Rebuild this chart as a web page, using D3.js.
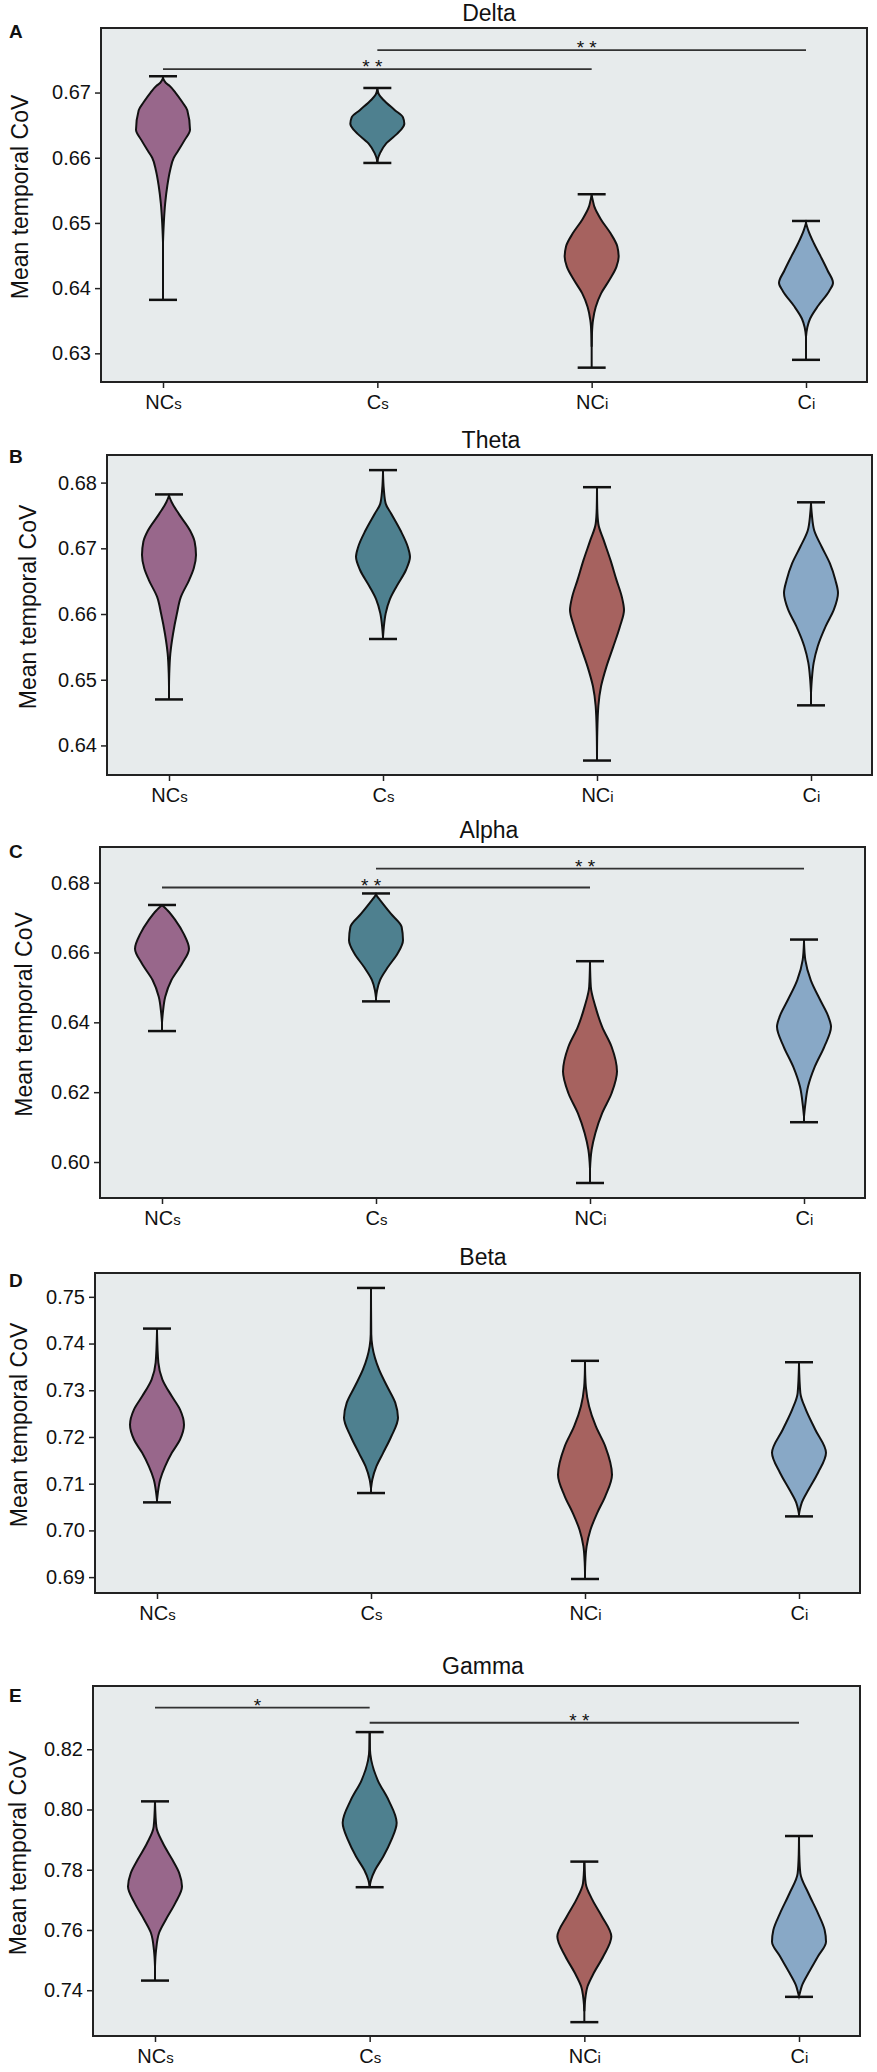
<!DOCTYPE html>
<html>
<head>
<meta charset="utf-8">
<script src="https://cdn.jsdelivr.net/npm/d3@7"></script>
<style>
  html, body { margin: 0; padding: 0; background: #fff; }
  svg text { font-family: "Liberation Sans", Arial, sans-serif; fill: #111; }
</style>
</head>
<body>
<svg id="chart" width="877" height="2072"></svg>
<script>
// groups and bands
var categories = ['NCs', 'Cs', 'NCi', 'Ci'];
var catMain = ['NC', 'C', 'NC', 'C'];
var catSub = ['s', 's', 'i', 'i'];
var bands = ['Delta', 'Theta', 'Alpha', 'Beta', 'Gamma'];
var panelLetters = ['A', 'B', 'C', 'D', 'E'];
var colors = ['#98678b', '#4e808f', '#a6625f', '#88a8c6'];

var yDomains = [[0.6256, 0.6799], [0.6355, 0.6842], [0.5897, 0.6902], [0.6866, 0.7551], [0.7248, 0.841]];
var yTicks = [
  [0.63, 0.64, 0.65, 0.66, 0.67],
  [0.64, 0.65, 0.66, 0.67, 0.68],
  [0.60, 0.62, 0.64, 0.66, 0.68],
  [0.69, 0.70, 0.71, 0.72, 0.73, 0.74, 0.75],
  [0.74, 0.76, 0.78, 0.80, 0.82]
];

// whisker [min, max] per band, per group
var whiskers = [
  [[0.6382, 0.6725], [0.6592, 0.6707], [0.6278, 0.6544], [0.6290, 0.6503]],
  [[0.6470, 0.6782], [0.6562, 0.6819], [0.6377, 0.6793], [0.6461, 0.6770]],
  [[0.6375, 0.6736], [0.6460, 0.6769], [0.5940, 0.6575], [0.6114, 0.6637]],
  [[0.7060, 0.7432], [0.7080, 0.7519], [0.6896, 0.7363], [0.7030, 0.7360]],
  [[0.7432, 0.8027], [0.7742, 0.8257], [0.7294, 0.7827], [0.7378, 0.7912]]
];

// violin outlines: [value, relative half width]
var deltaProfiles = [
  [[0.6722,0],[0.6715,0.1],[0.671,0.25],[0.670,0.46],[0.6685,0.72],[0.6673,0.9],[0.6643,1.0],[0.6627,0.8],[0.661,0.55],[0.660,0.4],[0.658,0.26],[0.6557,0.16],[0.653,0.08],[0.650,0.03],[0.647,0]],
  [[0.6705,0],[0.6697,0.06],[0.6689,0.22],[0.6673,0.65],[0.6662,0.95],[0.6652,1.0],[0.6643,0.88],[0.6637,0.74],[0.6622,0.33],[0.6607,0.1],[0.6598,0.02],[0.6593,0]],
  [[0.6542,0],[0.6535,0.04],[0.6525,0.1],[0.6505,0.35],[0.6484,0.7],[0.6464,0.95],[0.6448,1.0],[0.6433,0.92],[0.6412,0.65],[0.6392,0.35],[0.6371,0.15],[0.6351,0.05],[0.633,0.01],[0.631,0]],
  [[0.6500,0],[0.6489,0.08],[0.6468,0.3],[0.6448,0.55],[0.6427,0.8],[0.6408,1.0],[0.6395,0.85],[0.6373,0.45],[0.6353,0.15],[0.634,0.05],[0.6325,0]]
];
var thetaProfiles = [
  [[0.6780,0],[0.677,0.1],[0.6752,0.37],[0.6727,0.78],[0.671,0.95],[0.669,1.0],[0.667,0.92],[0.6652,0.75],[0.6626,0.44],[0.660,0.29],[0.657,0.15],[0.654,0.05],[0.651,0.01],[0.649,0]],
  [[0.6815,0],[0.679,0.03],[0.6768,0.1],[0.6753,0.3],[0.6727,0.65],[0.6702,0.92],[0.6687,1.0],[0.6667,0.85],[0.6642,0.5],[0.6622,0.25],[0.6601,0.1],[0.658,0.03],[0.6565,0]],
  [[0.679,0],[0.676,0.01],[0.6737,0.05],[0.6712,0.25],[0.6682,0.5],[0.6652,0.72],[0.6626,0.92],[0.6606,1.0],[0.6581,0.85],[0.655,0.6],[0.652,0.35],[0.649,0.15],[0.646,0.05],[0.642,0.01],[0.6385,0]],
  [[0.6768,0],[0.6752,0.03],[0.6727,0.12],[0.6702,0.4],[0.6677,0.7],[0.6652,0.9],[0.6632,1.0],[0.6607,0.85],[0.6582,0.55],[0.6551,0.25],[0.6526,0.1],[0.650,0.03],[0.648,0]]
];
var alphaProfiles = [
  [[0.6735,0],[0.673,0.08],[0.6721,0.2],[0.6692,0.5],[0.6654,0.8],[0.6611,1.0],[0.6569,0.75],[0.6521,0.35],[0.6473,0.12],[0.6426,0.03],[0.640,0]],
  [[0.6767,0],[0.676,0.05],[0.675,0.15],[0.6711,0.55],[0.6673,0.95],[0.6635,1.0],[0.6597,0.8],[0.6559,0.45],[0.6521,0.15],[0.6492,0.04],[0.647,0]],
  [[0.657,0],[0.6502,0.03],[0.6445,0.2],[0.6387,0.45],[0.633,0.8],[0.6259,1.0],[0.6197,0.8],[0.614,0.45],[0.6083,0.2],[0.6035,0.06],[0.598,0]],
  [[0.663,0],[0.6578,0.05],[0.6521,0.25],[0.6464,0.6],[0.6426,0.85],[0.6387,1.0],[0.633,0.75],[0.6273,0.4],[0.6216,0.15],[0.616,0.04],[0.613,0]]
];
var betaProfiles = [
  [[0.7425,0],[0.7359,0.05],[0.7323,0.2],[0.7287,0.55],[0.7259,0.85],[0.7226,1.0],[0.7194,0.85],[0.7166,0.55],[0.7137,0.3],[0.7109,0.12],[0.708,0.03],[0.7065,0]],
  [[0.751,0],[0.742,0.01],[0.7394,0.05],[0.7344,0.3],[0.7308,0.6],[0.7273,0.9],[0.7241,1.0],[0.7201,0.75],[0.7166,0.45],[0.7137,0.2],[0.7109,0.05],[0.709,0]],
  [[0.736,0],[0.733,0.01],[0.7308,0.03],[0.7266,0.15],[0.7223,0.4],[0.718,0.75],[0.7119,1.0],[0.7073,0.75],[0.7037,0.45],[0.7001,0.2],[0.6966,0.06],[0.693,0.01],[0.691,0]],
  [[0.7355,0],[0.7294,0.05],[0.7259,0.25],[0.7216,0.6],[0.7166,1.0],[0.7123,0.7],[0.7087,0.35],[0.7059,0.1],[0.7044,0.03],[0.7035,0]]
];
var gammaProfiles = [
  [[0.8025,0],[0.7942,0.05],[0.7887,0.3],[0.7832,0.65],[0.7788,0.9],[0.7744,1.0],[0.7689,0.75],[0.7634,0.4],[0.759,0.15],[0.7534,0.04],[0.748,0]],
  [[0.8255,0],[0.820,0.01],[0.8163,0.06],[0.8097,0.3],[0.8031,0.7],[0.7956,1.0],[0.7898,0.8],[0.7843,0.5],[0.7799,0.2],[0.7766,0.05],[0.7745,0]],
  [[0.7825,0],[0.7755,0.05],[0.770,0.3],[0.7645,0.65],[0.7578,1.0],[0.7512,0.7],[0.7457,0.35],[0.7413,0.12],[0.7368,0.03],[0.733,0]],
  [[0.791,0],[0.785,0.01],[0.7788,0.05],[0.7722,0.35],[0.7656,0.7],[0.760,0.95],[0.7561,1.0],[0.7512,0.7],[0.7457,0.35],[0.7413,0.1],[0.739,0.03],[0.738,0]]
];
var profiles = [deltaProfiles, thetaProfiles, alphaProfiles, betaProfiles, gammaProfiles];

// significance brackets: [fromGroup, toGroup, yValue, label]
var brackets = [
  [[0, 2, 0.6736, '* *'], [1, 3, 0.6765, '* *']],
  [],
  [[0, 2, 0.6786, '* *'], [1, 3, 0.6840, '* *']],
  [],
  [[0, 1, 0.8338, '*'], [1, 3, 0.8288, '* *']]
];

// panel frames (layout)
var frames = [
  { l: 101, r: 867, t: 28, b: 382, title: 489, titleY: 21, letterY: 38, labX: 28 },
  { l: 107, r: 872, t: 455, b: 775, title: 491, titleY: 448, letterY: 463, labX: 36 },
  { l: 100, r: 865, t: 847, b: 1198, title: 489, titleY: 838, letterY: 858, labX: 32 },
  { l: 95, r: 860, t: 1273, b: 1593, title: 483, titleY: 1265, letterY: 1287, labX: 27 },
  { l: 93, r: 860, t: 1686, b: 2036, title: 483, titleY: 1674, letterY: 1702, labX: 26 }
];

var svg = d3.select('#chart');
var HALF = 27, CAP = 14;

bands.forEach(function(band, p) {
  var f = frames[p];
  var g = svg.append('g');
  var x = d3.scalePoint().domain(categories).range([f.l + 62, f.r - 61]);
  var y = d3.scaleLinear().domain(yDomains[p]).range([f.b, f.t]);

  g.append('rect').attr('x', f.l).attr('y', f.t).attr('width', f.r - f.l).attr('height', f.b - f.t)
    .attr('fill', '#e7ebec').attr('stroke', '#222').attr('stroke-width', 2);

  // y axis
  var ya = g.append('g').attr('transform', 'translate(' + f.l + ',0)')
    .call(d3.axisLeft(y).tickValues(yTicks[p]).tickFormat(d3.format('.2f')).tickSize(6).tickPadding(4));
  ya.select('.domain').remove();
  ya.selectAll('line').attr('stroke', '#222').attr('stroke-width', 1.5);
  ya.selectAll('text').attr('font-size', 20).attr('fill', '#111').style('font-family', '"Liberation Sans", Arial, sans-serif');

  // x axis
  var xa = g.append('g').attr('transform', 'translate(0,' + f.b + ')')
    .call(d3.axisBottom(x).tickSize(6).tickPadding(6));
  xa.select('.domain').remove();
  xa.selectAll('line').attr('stroke', '#222').attr('stroke-width', 1.5);
  xa.selectAll('text').each(function(d, i) {
    var t = d3.select(this).text('').attr('font-size', 20).attr('dy', '0.74em')
      .style('font-family', '"Liberation Sans", Arial, sans-serif');
    t.append('tspan').text(catMain[i]);
    t.append('tspan').attr('font-size', 15).text(catSub[i]);
  });

  // whiskers
  categories.forEach(function(c, i) {
    var w = whiskers[p][i];
    g.append('line').attr('x1', x(c)).attr('x2', x(c)).attr('y1', y(w[0])).attr('y2', y(w[1]))
      .attr('stroke', '#111').attr('stroke-width', 2);
  });

  // violins
  var area = d3.area()
    .y(function(d) { return y(d[0]); })
    .x0(function(d) { return -d[1] * HALF; })
    .x1(function(d) { return d[1] * HALF; })
    .curve(d3.curveMonotoneY);
  categories.forEach(function(c, i) {
    g.append('path').datum(profiles[p][i])
      .attr('transform', 'translate(' + x(c) + ',0)')
      .attr('d', area)
      .attr('fill', colors[i]).attr('stroke', '#111').attr('stroke-width', 2);
  });

  // caps
  categories.forEach(function(c, i) {
    var w = whiskers[p][i];
    w.forEach(function(v) {
      g.append('line').attr('x1', x(c) - CAP).attr('x2', x(c) + CAP).attr('y1', y(v)).attr('y2', y(v))
        .attr('stroke', '#111').attr('stroke-width', 2.5);
    });
  });

  // brackets
  brackets[p].forEach(function(b) {
    var x1 = x(categories[b[0]]), x2 = x(categories[b[1]]), yy = y(b[2]);
    g.append('line').attr('x1', x1).attr('x2', x2).attr('y1', yy).attr('y2', yy)
      .attr('stroke', '#333').attr('stroke-width', 1.8);
    g.append('text').attr('x', (x1 + x2) / 2 - 5).attr('y', yy + 4).attr('text-anchor', 'middle')
      .attr('font-size', 19).text(b[3]);
  });

  // titles
  g.append('text').attr('x', f.title).attr('y', f.titleY).attr('text-anchor', 'middle')
    .attr('font-size', 23).text(band);
  g.append('text').attr('x', 9).attr('y', f.letterY).attr('font-size', 19).attr('font-weight', 'bold')
    .text(panelLetters[p]);
  g.append('text').attr('transform', 'translate(' + f.labX + ',' + ((f.t + f.b) / 2 - 8) + ') rotate(-90)')
    .attr('text-anchor', 'middle').attr('font-size', 23).text('Mean temporal CoV');
});
</script>
</body>
</html>
